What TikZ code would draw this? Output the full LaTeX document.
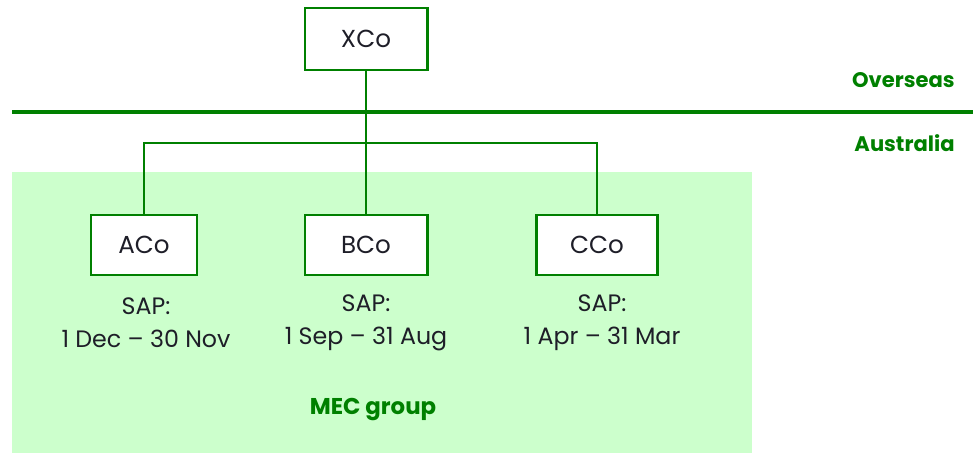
\documentclass[tikz,border=0pt]{standalone}
\usepackage{fontspec}
\setmainfont{Poppins}
\usetikzlibrary{positioning}
\definecolor{grpgreen}{RGB}{0,128,0}
\definecolor{grpfill}{RGB}{204,255,204}
\definecolor{txtdark}{RGB}{30,30,40}
\begin{document}
\begin{tikzpicture}[company/.style={draw=grpgreen, line width=1.7pt, fill=white, minimum height=1.2cm, text=txtdark, font=\fontsize{14}{16}\selectfont},
    link/.style={grpgreen, line width=1.1pt},
    sap/.style={align=center, text=txtdark, font=\fontsize{13.5}{18.7}\selectfont},
    region/.style={text=grpgreen, font=\bfseries\fontsize{12}{14}\selectfont, anchor=east, inner sep=0pt}]
    \useasboundingbox (0, 0) rectangle (19.46, 9.06);
    \fill[grpfill] (0.24, 0) rectangle (15.04, 5.62);

    \node[company, minimum width=2.44cm, minimum height=1.24cm] (xco) at (7.32, 8.28) {XCo};
    \node[company, minimum width=2.12cm] (aco) at (2.88, 4.16) {ACo};
    \node[company, minimum width=2.44cm] (bco) at (7.32, 4.16) {BCo};
    \node[company, minimum width=2.42cm] (cco) at (11.94, 4.16) {CCo};

    \coordinate (bus) at (7.32, 6.2);
    \draw[link] (xco.south) -- (bco.north);
    \draw[link] (aco.north) |- (bus) -| (cco.north);

    \coordinate (border-l) at (0.24, 6.82);
    \coordinate (border-r) at (19.46, 6.82);
    \draw[grpgreen, line width=2.8pt] (border-l) -- (border-r);
    \node[region] (overseas) at (19.1, 7.46) {Overseas};
    \node[region] (australia) at (19.1, 6.2) {Australia};

    \node[sap] (sap-a) at (2.92, 2.6) {SAP:\\1 Dec – 30 Nov};
    \node[sap] (sap-b) at (7.32, 2.6) {SAP:\\1 Sep – 31 Aug};
    \node[sap] (sap-c) at (12.04, 2.6) {SAP:\\1 Apr – 31 Mar};

    \node[text=grpgreen, font=\bfseries\fontsize{13}{15}\selectfont] (mec) at (7.46, 0.86) {MEC group};
\end{tikzpicture}
\end{document}
